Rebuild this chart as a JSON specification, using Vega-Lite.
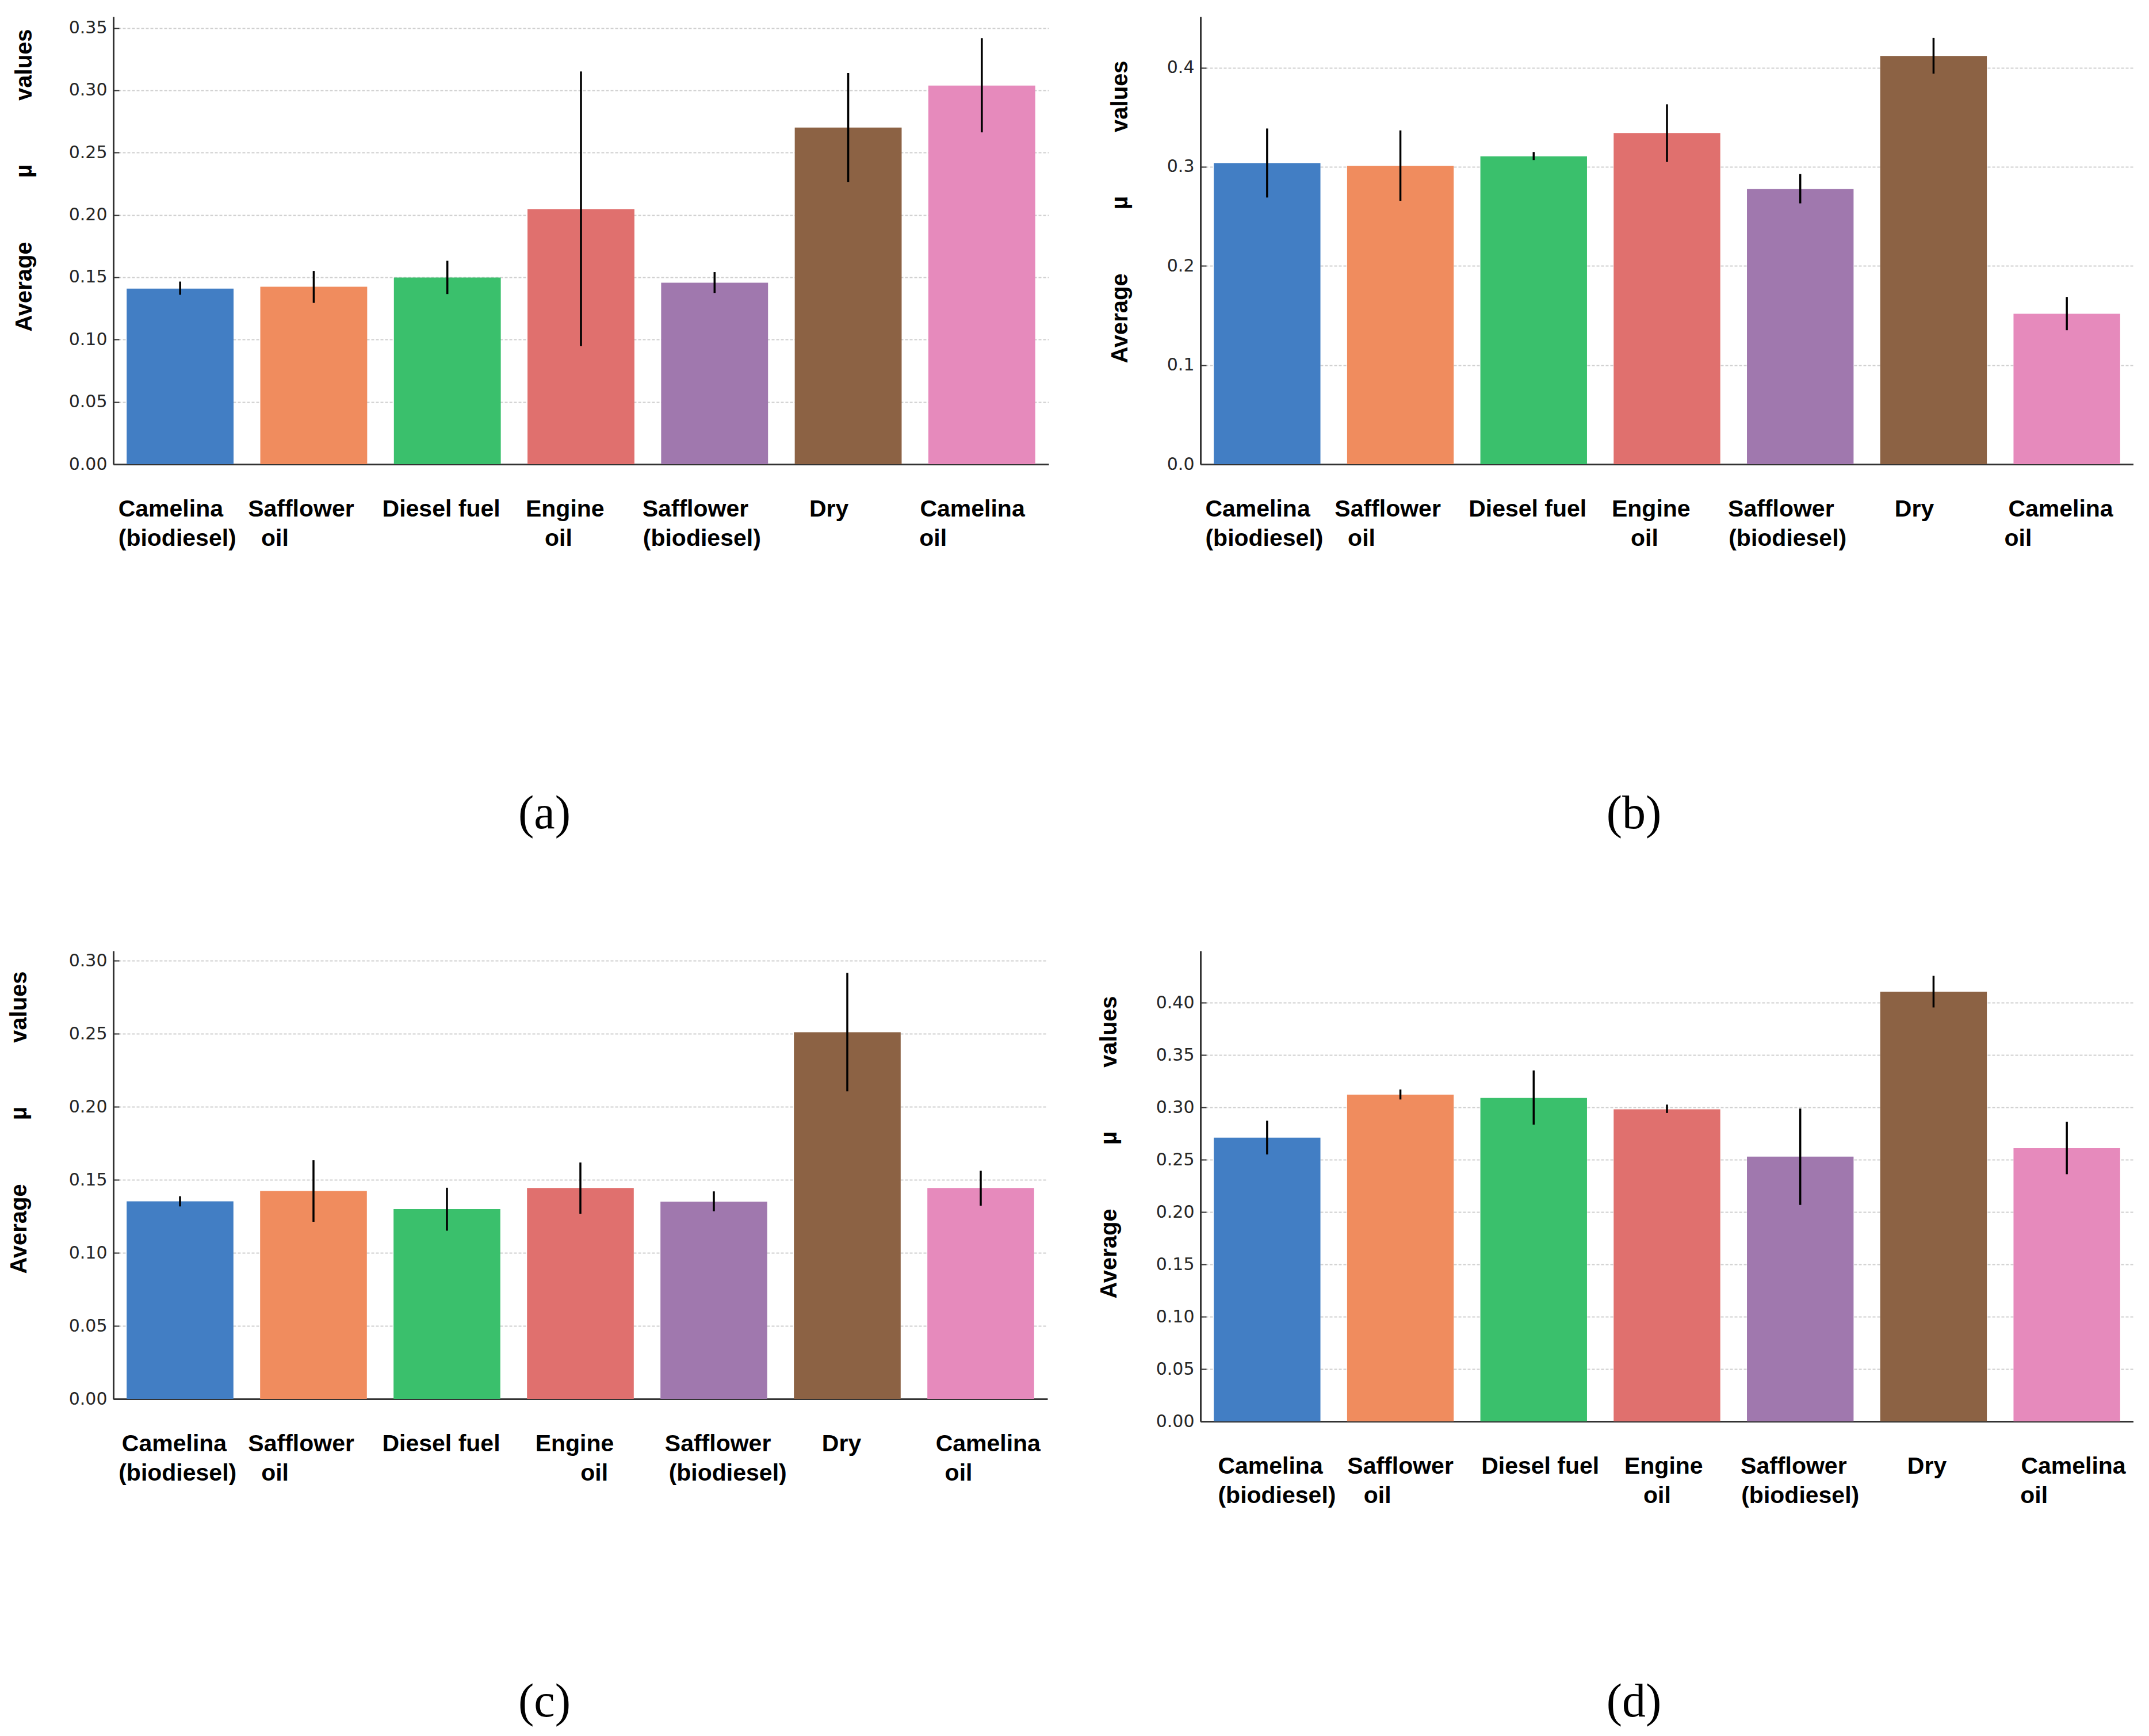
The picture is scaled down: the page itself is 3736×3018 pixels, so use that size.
{
  "$schema": "https://vega.github.io/schema/vega-lite/v6.json",
  "padding": {"left": 13, "top": 29, "right": 0, "bottom": 20},
  "background": "white",
  "bounds": "flush",
  "columns": 2,
  "spacing": {"row": 846, "column": 264},
  "data": {
    "values": [
      {"panel": "a", "material": "Camelina (biodiesel)", "mean": 0.1409, "lo": 0.1359, "hi": 0.1465},
      {"panel": "a", "material": "Safflower oil", "mean": 0.1424, "lo": 0.1294, "hi": 0.155},
      {"panel": "a", "material": "Diesel fuel", "mean": 0.1497, "lo": 0.1365, "hi": 0.1632},
      {"panel": "a", "material": "Engine oil", "mean": 0.2047, "lo": 0.0947, "hi": 0.315},
      {"panel": "a", "material": "Safflower (biodiesel)", "mean": 0.1456, "lo": 0.1374, "hi": 0.1541},
      {"panel": "a", "material": "Dry", "mean": 0.270, "lo": 0.2265, "hi": 0.3138},
      {"panel": "a", "material": "Camelina oil", "mean": 0.3038, "lo": 0.2662, "hi": 0.3418},
      {"panel": "b", "material": "Camelina (biodiesel)", "mean": 0.3038, "lo": 0.269, "hi": 0.3386},
      {"panel": "b", "material": "Safflower oil", "mean": 0.3008, "lo": 0.2657, "hi": 0.3367},
      {"panel": "b", "material": "Diesel fuel", "mean": 0.3105, "lo": 0.3068, "hi": 0.3149},
      {"panel": "b", "material": "Engine oil", "mean": 0.3341, "lo": 0.3049, "hi": 0.363},
      {"panel": "b", "material": "Safflower (biodiesel)", "mean": 0.2775, "lo": 0.2631, "hi": 0.2927},
      {"panel": "b", "material": "Dry", "mean": 0.4118, "lo": 0.394, "hi": 0.43},
      {"panel": "b", "material": "Camelina oil", "mean": 0.1517, "lo": 0.1351, "hi": 0.1687},
      {"panel": "c", "material": "Camelina (biodiesel)", "mean": 0.1353, "lo": 0.1318, "hi": 0.1388},
      {"panel": "c", "material": "Safflower oil", "mean": 0.1424, "lo": 0.1213, "hi": 0.1634},
      {"panel": "c", "material": "Diesel fuel", "mean": 0.130, "lo": 0.1152, "hi": 0.1446},
      {"panel": "c", "material": "Engine oil", "mean": 0.1444, "lo": 0.1268, "hi": 0.1619},
      {"panel": "c", "material": "Safflower (biodiesel)", "mean": 0.1351, "lo": 0.1285, "hi": 0.1421},
      {"panel": "c", "material": "Dry", "mean": 0.2511, "lo": 0.2106, "hi": 0.2917},
      {"panel": "c", "material": "Camelina oil", "mean": 0.1444, "lo": 0.1323, "hi": 0.1562},
      {"panel": "d", "material": "Camelina (biodiesel)", "mean": 0.2711, "lo": 0.255, "hi": 0.2872},
      {"panel": "d", "material": "Safflower oil", "mean": 0.3121, "lo": 0.3075, "hi": 0.317},
      {"panel": "d", "material": "Diesel fuel", "mean": 0.3089, "lo": 0.2834, "hi": 0.3352},
      {"panel": "d", "material": "Engine oil", "mean": 0.2981, "lo": 0.2946, "hi": 0.3026},
      {"panel": "d", "material": "Safflower (biodiesel)", "mean": 0.2529, "lo": 0.2067, "hi": 0.2988},
      {"panel": "d", "material": "Dry", "mean": 0.4105, "lo": 0.3954, "hi": 0.4256},
      {"panel": "d", "material": "Camelina oil", "mean": 0.261, "lo": 0.2361, "hi": 0.2862}
    ]
  },
  "concat": [
    {
      "width": 1626,
      "height": 778,
      "transform": [{"filter": "datum.panel == 'a'"}],
      "encoding": {
        "x": {
          "field": "material", "type": "nominal", "sort": null,
          "scale": {"paddingInner": 0.2, "paddingOuter": 0.1},
          "axis": {
            "labelOffset": -22,
            "labelExpr": "datum.value == 'Camelina (biodiesel)' ? ['\u200b\u00a0Camelina', '\u200b\u00a0\u00a0\u00a0(biodiesel)'] : datum.value == 'Safflower oil' ? ['Safflower', 'oil\u00a0\u00a0\u00a0\u00a0\u00a0\u00a0\u00a0\u00a0\u200b'] : datum.value == 'Diesel fuel' ? '\u200b\u00a0\u00a0Diesel fuel' : datum.value == 'Engine oil' ? ['Engine\u00a0\u200b', 'oil\u00a0\u00a0\u00a0\u200b'] : datum.value == 'Safflower (biodiesel)' ? ['Safflower\u00a0\u00a0\u200b', '(biodiesel)'] : datum.value == 'Dry' ? 'Dry\u00a0\u00a0\u200b' : ['\u200b\u00a0Camelina', 'oil\u00a0\u00a0\u00a0\u00a0\u00a0\u00a0\u00a0\u00a0\u00a0\u00a0\u00a0\u200b']",
            "title": "(a)", "titleX": 749, "titleY": 607
          }
        }
      },
      "layer": [
        {
          "mark": {"type": "bar"},
          "encoding": {
            "y": {
              "field": "mean", "type": "quantitative",
              "scale": {"domain": [0, 0.359], "nice": false},
              "axis": {
                "values": [0, 0.05, 0.1, 0.15, 0.2, 0.25, 0.3, 0.35], "format": ".2f",
                "title": "Average\u00a0\u00a0\u00a0\u00a0\u00a0\u00a0\u00a0\u00a0\u00a0\u00a0µ\u00a0\u00a0\u00a0\u00a0\u00a0\u00a0\u00a0\u00a0\u00a0\u00a0values",
                "titleX": -155, "titleY": 284
              }
            },
            "color": {
              "field": "material", "type": "nominal", "sort": null, "legend": null,
              "scale": {
                "domain": ["Camelina (biodiesel)", "Safflower oil", "Diesel fuel", "Engine oil", "Safflower (biodiesel)", "Dry", "Camelina oil"],
                "range": ["#427EC4", "#F08C5E", "#3AC06C", "#E0706E", "#A078AE", "#8C6244", "#E68ABC"]
              }
            }
          }
        },
        {
          "mark": {"type": "rule", "color": "black", "strokeWidth": 3.5},
          "encoding": {
            "y": {"field": "lo", "type": "quantitative"},
            "y2": {"field": "hi"}
          }
        }
      ]
    },
    {
      "width": 1622,
      "height": 778,
      "transform": [{"filter": "datum.panel == 'b'"}],
      "encoding": {
        "x": {
          "field": "material", "type": "nominal", "sort": null,
          "scale": {"paddingInner": 0.2, "paddingOuter": 0.1},
          "axis": {
            "labelOffset": -22,
            "labelExpr": "datum.value == 'Camelina (biodiesel)' ? ['\u200b\u00a0Camelina', '\u200b\u00a0\u00a0\u00a0(biodiesel)'] : datum.value == 'Safflower oil' ? ['Safflower', 'oil\u00a0\u00a0\u00a0\u00a0\u00a0\u00a0\u00a0\u00a0\u200b'] : datum.value == 'Diesel fuel' ? '\u200b\u00a0\u00a0Diesel fuel' : datum.value == 'Engine oil' ? ['Engine\u00a0\u200b', 'oil\u00a0\u00a0\u00a0\u200b'] : datum.value == 'Safflower (biodiesel)' ? ['Safflower\u00a0\u00a0\u200b', '(biodiesel)'] : datum.value == 'Dry' ? 'Dry\u00a0\u00a0\u200b' : ['\u200b\u00a0\u00a0Camelina', 'oil\u00a0\u00a0\u00a0\u00a0\u00a0\u00a0\u00a0\u00a0\u00a0\u00a0\u00a0\u200b']",
            "title": "(b)", "titleX": 753, "titleY": 607
          }
        }
      },
      "layer": [
        {
          "mark": {"type": "bar"},
          "encoding": {
            "y": {
              "field": "mean", "type": "quantitative",
              "scale": {"domain": [0, 0.4514], "nice": false},
              "axis": {
                "values": [0, 0.1, 0.2, 0.3, 0.4], "format": ".1f",
                "title": "Average\u00a0\u00a0\u00a0\u00a0\u00a0\u00a0\u00a0\u00a0\u00a0\u00a0µ\u00a0\u00a0\u00a0\u00a0\u00a0\u00a0\u00a0\u00a0\u00a0\u00a0values",
                "titleX": -140, "titleY": 339
              }
            },
            "color": {
              "field": "material", "type": "nominal", "sort": null, "legend": null,
              "scale": {
                "domain": ["Camelina (biodiesel)", "Safflower oil", "Diesel fuel", "Engine oil", "Safflower (biodiesel)", "Dry", "Camelina oil"],
                "range": ["#427EC4", "#F08C5E", "#3AC06C", "#E0706E", "#A078AE", "#8C6244", "#E68ABC"]
              }
            }
          }
        },
        {
          "mark": {"type": "rule", "color": "black", "strokeWidth": 3.5},
          "encoding": {
            "y": {"field": "lo", "type": "quantitative"},
            "y2": {"field": "hi"}
          }
        }
      ]
    },
    {
      "width": 1624,
      "height": 779,
      "transform": [{"filter": "datum.panel == 'c'"}],
      "encoding": {
        "x": {
          "field": "material", "type": "nominal", "sort": null,
          "scale": {"paddingInner": 0.2, "paddingOuter": 0.1},
          "axis": {
            "labelOffset": -10,
            "labelExpr": "datum.value == 'Camelina (biodiesel)' ? ['Camelina', '\u200b\u00a0(biodiesel)'] : datum.value == 'Safflower oil' ? ['Safflower\u00a0\u00a0\u200b', 'oil\u00a0\u00a0\u00a0\u00a0\u00a0\u00a0\u00a0\u00a0\u00a0\u00a0\u200b'] : datum.value == 'Diesel fuel' ? 'Diesel fuel' : datum.value == 'Engine oil' ? ['Engine', '\u200b\u00a0\u00a0\u00a0\u00a0\u00a0\u00a0oil'] : datum.value == 'Safflower (biodiesel)' ? ['\u200b\u00a0\u00a0\u00a0Safflower', '\u200b\u00a0\u00a0\u00a0\u00a0\u00a0\u00a0(biodiesel)'] : datum.value == 'Dry' ? 'Dry' : ['\u200b\u00a0\u00a0\u00a0\u00a0Camelina', 'oil\u00a0\u00a0\u00a0\u00a0\u00a0\u200b']",
            "title": "(c)", "titleX": 749, "titleY": 526
          }
        }
      },
      "layer": [
        {
          "mark": {"type": "bar"},
          "encoding": {
            "y": {
              "field": "mean", "type": "quantitative",
              "scale": {"domain": [0, 0.3068], "nice": false},
              "axis": {
                "values": [0, 0.05, 0.1, 0.15, 0.2, 0.25, 0.3], "format": ".2f",
                "title": "Average\u00a0\u00a0\u00a0\u00a0\u00a0\u00a0\u00a0\u00a0\u00a0\u00a0µ\u00a0\u00a0\u00a0\u00a0\u00a0\u00a0\u00a0\u00a0\u00a0\u00a0values",
                "titleX": -164, "titleY": 298
              }
            },
            "color": {
              "field": "material", "type": "nominal", "sort": null, "legend": null,
              "scale": {
                "domain": ["Camelina (biodiesel)", "Safflower oil", "Diesel fuel", "Engine oil", "Safflower (biodiesel)", "Dry", "Camelina oil"],
                "range": ["#427EC4", "#F08C5E", "#3AC06C", "#E0706E", "#A078AE", "#8C6244", "#E68ABC"]
              }
            }
          }
        },
        {
          "mark": {"type": "rule", "color": "black", "strokeWidth": 3.5},
          "encoding": {
            "y": {"field": "lo", "type": "quantitative"},
            "y2": {"field": "hi"}
          }
        }
      ]
    },
    {
      "width": 1622,
      "height": 818,
      "transform": [{"filter": "datum.panel == 'd'"}],
      "encoding": {
        "x": {
          "field": "material", "type": "nominal", "sort": null,
          "scale": {"paddingInner": 0.2, "paddingOuter": 0.1},
          "axis": {
            "labelOffset": 0,
            "labelExpr": "datum.value == 'Camelina (biodiesel)' ? ['\u200b\u00a0Camelina', '\u200b\u00a0\u00a0\u00a0(biodiesel)'] : datum.value == 'Safflower oil' ? ['Safflower', 'oil\u00a0\u00a0\u00a0\u00a0\u00a0\u00a0\u00a0\u200b'] : datum.value == 'Diesel fuel' ? '\u200b\u00a0\u00a0Diesel fuel' : datum.value == 'Engine oil' ? ['Engine\u00a0\u200b', 'oil\u00a0\u00a0\u00a0\u200b'] : datum.value == 'Safflower (biodiesel)' ? ['Safflower\u00a0\u00a0\u200b', '(biodiesel)'] : datum.value == 'Dry' ? 'Dry\u00a0\u00a0\u200b' : ['\u200b\u00a0\u00a0Camelina', 'oil\u00a0\u00a0\u00a0\u00a0\u00a0\u00a0\u00a0\u00a0\u00a0\u00a0\u200b']",
            "title": "(d)", "titleX": 753, "titleY": 487
          }
        }
      },
      "layer": [
        {
          "mark": {"type": "bar"},
          "encoding": {
            "y": {
              "field": "mean", "type": "quantitative",
              "scale": {"domain": [0, 0.4495], "nice": false},
              "axis": {
                "values": [0, 0.05, 0.1, 0.15, 0.2, 0.25, 0.3, 0.35, 0.4], "format": ".2f",
                "title": "Average\u00a0\u00a0\u00a0\u00a0\u00a0\u00a0\u00a0\u00a0\u00a0\u00a0µ\u00a0\u00a0\u00a0\u00a0\u00a0\u00a0\u00a0\u00a0\u00a0\u00a0values",
                "titleX": -159, "titleY": 341
              }
            },
            "color": {
              "field": "material", "type": "nominal", "sort": null, "legend": null,
              "scale": {
                "domain": ["Camelina (biodiesel)", "Safflower oil", "Diesel fuel", "Engine oil", "Safflower (biodiesel)", "Dry", "Camelina oil"],
                "range": ["#427EC4", "#F08C5E", "#3AC06C", "#E0706E", "#A078AE", "#8C6244", "#E68ABC"]
              }
            }
          }
        },
        {
          "mark": {"type": "rule", "color": "black", "strokeWidth": 3.5},
          "encoding": {
            "y": {"field": "lo", "type": "quantitative"},
            "y2": {"field": "hi"}
          }
        }
      ]
    }
  ],
  "config": {
    "view": {"stroke": null},
    "font": "Liberation Sans",
    "axisY": {
      "zindex": 1,
      "grid": true,
      "gridColor": "#cfcfcf",
      "gridDash": [5, 3],
      "gridWidth": 1.8,
      "domainColor": "#333333",
      "domainWidth": 3,
      "tickColor": "#333333",
      "tickWidth": 2,
      "tickSize": -10,
      "labelFont": "DejaVu Sans",
      "labelFontSize": 30,
      "labelColor": "#262626",
      "labelPadding": 21,
      "labelBaseline": "middle",
      "labelOverlap": false,
      "labelFlush": false,
      "titleFont": "Liberation Sans",
      "titleFontSize": 40,
      "titleFontWeight": "bold",
      "titleColor": "#000000",
      "titleAngle": -90,
      "titleBaseline": "middle",
      "titleAlign": "center"
    },
    "axisX": {
      "grid": false,
      "domainColor": "#333333",
      "domainWidth": 3,
      "tickColor": "#333333",
      "tickWidth": 2,
      "tickSize": -10,
      "labelFont": "Liberation Sans",
      "labelFontSize": 41,
      "labelFontWeight": "bold",
      "labelColor": "#000000",
      "labelAngle": 0,
      "labelAlign": "center",
      "labelBaseline": "top",
      "labelLineHeight": 51,
      "labelPadding": 68,
      "labelOverlap": false,
      "labelBound": false,
      "labelLimit": 0,
      "titleFont": "Liberation Serif",
      "titleFontSize": 82,
      "titleFontWeight": "normal",
      "titleColor": "#000000",
      "titleAngle": 0,
      "titleBaseline": "middle",
      "titleAlign": "center"
    }
  }
}
